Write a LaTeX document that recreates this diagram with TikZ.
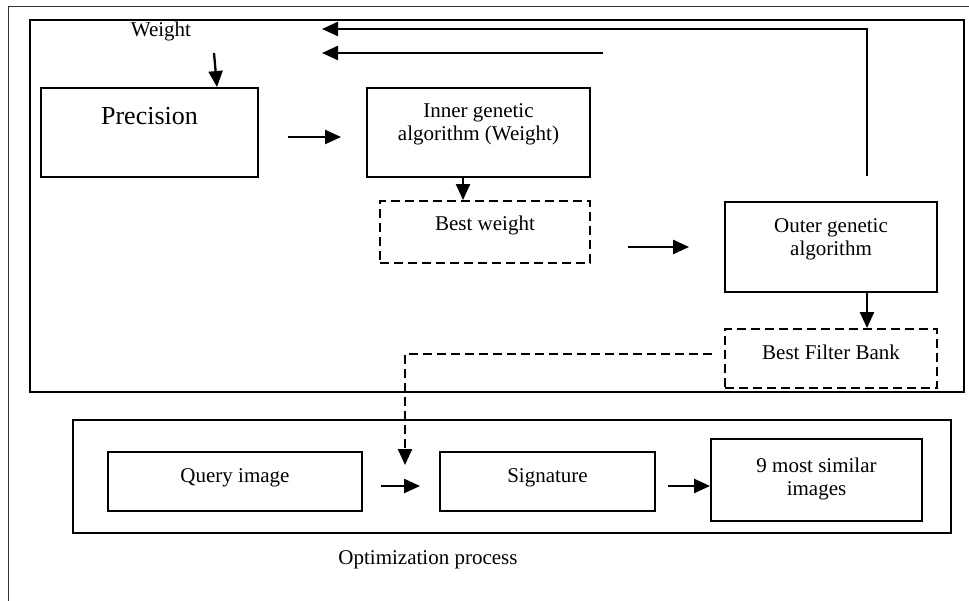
\documentclass[tikz,border=0pt]{standalone}
\usepackage{fontspec}
\setmainfont{Liberation Serif}
\usetikzlibrary{arrows.meta}

\begin{document}
\begin{tikzpicture}[x=1pt,y=-1pt,
  box/.style={draw,line width=1.9pt,inner sep=0pt,align=center,font=\fontsize{21}{23}\selectfont},
  dbox/.style={box,dash pattern=on 9pt off 5pt},
  lift/.style={text depth=#1},
  arr/.style={line width=2.3pt,-{Triangle[length=16pt,width=14pt]}}]
  \useasboundingbox (0,0) rectangle (969,601);
  % Outer frame
  \draw[line width=1pt,black!80] (969,7) -| (8,601);
  % Upper box
  \draw[line width=1.9pt] (30,20) rectangle (964,392);
  \node[font=\fontsize{21}{23}\selectfont] (weight) at (161,31) {Weight};
  \node[box,minimum width=217pt,minimum height=89pt,lift=33pt,font=\fontsize{26}{30}\selectfont] (prec) at (149.5,132.5) {Precision};
  \node[box,minimum width=223pt,minimum height=89pt,lift=20pt] (inner) at (478.5,132.5) {Inner genetic\\algorithm (Weight)};
  \node[dbox,minimum width=210pt,minimum height=62pt,lift=17.7pt] (bestw) at (485,232) {Best weight};
  \node[box,minimum width=212pt,minimum height=90pt,lift=19pt] (outer) at (831,247) {Outer genetic\\algorithm};
  \node[dbox,minimum width=212pt,minimum height=59pt,lift=12.7pt] (bfb) at (831,358.5) {Best Filter Bank};
  % Lower box
  \draw[line width=1.9pt] (73,420) rectangle (951,533);
  \node[box,minimum width=254pt,minimum height=59pt,lift=12.7pt] (query) at (235,481.5) {Query image};
  \node[box,minimum width=215pt,minimum height=59pt,lift=12.7pt] (sig) at (547.5,481.5) {Signature};
  \node[box,minimum width=211pt,minimum height=82pt,lift=6pt] (most) at (816.5,480) {9 most similar\\images};
  \node[font=\fontsize{21}{23}\selectfont] (optim) at (428,560) {Optimization process};
  % Free ends
  \coordinate (wtail) at (214,53);
  \coordinate (loopa) at ([xshift=36pt,yshift=25pt]outer.north);
  \coordinate (backa) at (322,29);
  \coordinate (loopb) at (603,53);
  \coordinate (backb) at (322,53);
  \coordinate (sigin) at (405,465);
  % Arrows
  \draw[arr] (wtail) -- ([xshift=67.5pt]prec.north);
  \draw[arr,shorten <=29pt,shorten >=25pt] ([yshift=-4.5pt]prec.east) -- ([yshift=-4.5pt]prec.east -| inner.west);
  \draw[arr] ([xshift=-15.5pt]inner.south) -- ([xshift=-15.5pt]inner.south |- bestw.north);
  \draw[arr,shorten <=37pt,shorten >=35pt] (bestw.east |- outer.west) -- (outer.west);
  \draw[arr] ([xshift=36pt]outer.south) -- ([xshift=36pt]outer.south |- bfb.north);
  \draw[arr] (loopa) |- (backa);
  \draw[arr] (loopb) -- (backb);
  \draw[arr,dash pattern=on 9pt off 5pt,shorten <=12pt] ([yshift=4.5pt]bfb.west) -| (sigin);
  \draw[arr,shorten <=18pt,shorten >=19pt] ([yshift=-4.5pt]query.east) -- ([yshift=-4.5pt]query.east -| sig.west);
  \draw[arr,shorten <=12pt] ([yshift=-4.5pt]sig.east) -- ([yshift=-4.5pt]sig.east -| most.west);
\end{tikzpicture}
\end{document}
